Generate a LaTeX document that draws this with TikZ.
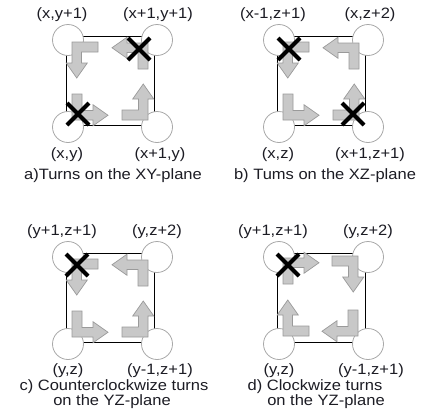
\documentclass[tikz,border=0pt]{standalone}
\usepackage{fontspec}
\setmainfont{Liberation Sans}
\definecolor{arrfill}{HTML}{C8C8C8}
\definecolor{arrline}{HTML}{9A9A9A}
\definecolor{circline}{HTML}{A8A8A8}
\definecolor{txt}{HTML}{1C1C24}
\tikzset{
  corner/.style={circle, draw=circline, fill=white, line width=0.8pt, minimum size=31pt, inner sep=0pt},
  sq/.style={draw=black, line width=0.8pt},
  arr/.style={fill=arrfill, draw=arrline, line width=0.7pt, line join=miter},
  xmark/.style={draw=black, line width=4pt},
  lbl/.style={font=\fontsize{15}{17}\selectfont, text=txt, inner sep=0pt, xscale=1.1},
  captxt/.style={font=\fontsize{15}{16}\selectfont, text=txt, inner sep=0pt, xscale=1.1}
}
\newcommand\bentarr[6]{%
  \begin{scope}[shift={(#1,#2)}, x={(#3pt,#4pt)}, y={(#5pt,#6pt)}]
    \filldraw[arr] (0,0) -- (26,0) -- (26,10) -- (9.5,10) -- (9.5,21) -- (15.3,21) -- (4.75,36) -- (-5.8,21) -- (0,21) -- cycle;
  \end{scope}}
\newcommand\xm[2]{%
  \draw[xmark] (#1-11,#2-11) -- (#1+11,#2+11);
  \draw[xmark] (#1-11,#2+11) -- (#1+11,#2-11);}
\newcommand\basepanel[1]{%
  \draw[sq] (66,36) rectangle (154,125);
  \node[corner] (#1tl) at (68,40) {};
  \node[corner] (#1tr) at (157,40) {};
  \node[corner] (#1bl) at (68,127) {};
  \node[corner] (#1br) at (157,127) {};}
\begin{document}
\begin{tikzpicture}[x=1pt,y=-1pt]
\useasboundingbox (0,0) rectangle (422,418);
\fill[white] (0,0) rectangle (422,418);
% ---------- panel a ----------
\begin{scope}
  \basepanel{a}
  \bentarr{72}{42}{1}{0}{0}{-1}
  \bentarr{148}{43}{0}{-1}{-1}{0}
  \bentarr{72}{120}{0}{1}{1}{0}
  \bentarr{148}{120}{-1}{0}{0}{1}
  \xm{139}{49}
  \xm{78}{114}
  \node[lbl] (alt) at (62,15) {(x,y+1)};
  \node[lbl] (art) at (158,15) {(x+1,y+1)};
  \node[lbl] (alb) at (67,155) {(x,y)};
  \node[lbl] (arb) at (160,155) {(x+1,y)};
  \node[captxt] (acap) at (113,176) {a)Turns on the XY-plane};
\end{scope}
% ---------- panel b ----------
\begin{scope}[shift={(211,0)}]
  \basepanel{b}
  \bentarr{72}{42}{1}{0}{0}{-1}
  \bentarr{148}{43}{0}{-1}{-1}{0}
  \bentarr{72}{120}{0}{1}{1}{0}
  \bentarr{148}{120}{-1}{0}{0}{1}
  \xm{78}{49}
  \xm{142}{114}
  \node[lbl] (blt) at (62,15) {(x-1,z+1)};
  \node[lbl] (brt) at (159,15) {(x,z+2)};
  \node[lbl] (blb) at (67,155) {(x,z)};
  \node[lbl] (brb) at (159,155) {(x+1,z+1)};
  \node[captxt] (bcap) at (114,176) {b) Tums on the XZ-plane};
\end{scope}
% ---------- panel c ----------
\begin{scope}[shift={(0,217)}]
  \basepanel{c}
  \bentarr{72}{42}{1}{0}{0}{-1}
  \bentarr{148}{43}{0}{-1}{-1}{0}
  \bentarr{72}{120}{0}{1}{1}{0}
  \bentarr{148}{120}{-1}{0}{0}{1}
  \xm{77}{48}
  \node[lbl] (clt) at (62,15) {(y+1,z+1)};
  \node[lbl] (crt) at (157,15) {(y,z+2)};
  \node[lbl] (clb) at (68,154) {(y,z)};
  \node[lbl] (crb) at (160,154) {(y-1,z+1)};
  \node[captxt] (ccapa) at (114,169.5) {c) Counterclockwize turns};
  \node[captxt] (ccapb) at (112,184.5) {on the YZ-plane};
\end{scope}
% ---------- panel d ----------
\begin{scope}[shift={(211,217)}]
  \basepanel{d}
  \bentarr{72}{41}{0}{-1}{1}{0}
  \bentarr{147}{39}{-1}{0}{0}{-1}
  \bentarr{72}{119}{1}{0}{0}{1}
  \bentarr{147}{119}{0}{1}{-1}{0}
  \xm{77}{48}
  \node[lbl] (dlt) at (62,15) {(y+1,z+1)};
  \node[lbl] (drt) at (157,15) {(y,z+2)};
  \node[lbl] (dlb) at (68,154) {(y,z)};
  \node[lbl] (drb) at (160,154) {(y-1,z+1)};
  \node[captxt] (dcapa) at (104,169.5) {d) Clockwize turns};
  \node[captxt] (dcapb) at (115,184.5) {on the YZ-plane};
\end{scope}
\end{tikzpicture}
\end{document}
